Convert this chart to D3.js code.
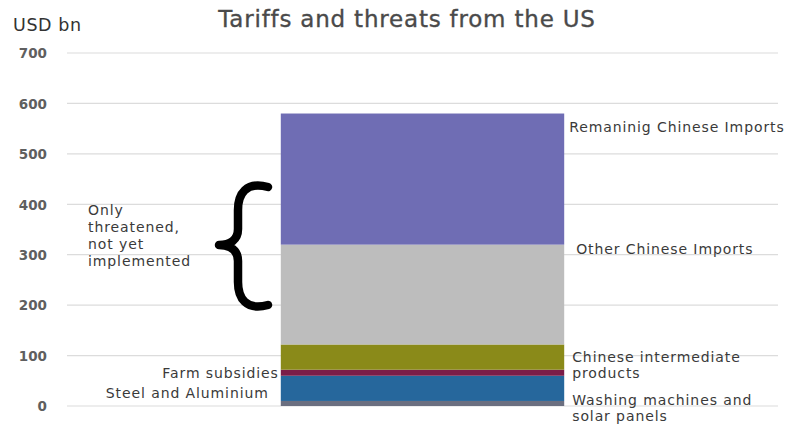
<!DOCTYPE html>
<html>
<head>
<meta charset="utf-8">
<script src="https://cdn.jsdelivr.net/npm/d3@7/dist/d3.min.js"></script>
<style>
  html, body { margin: 0; padding: 0; background: #fff; }
  svg { display: block; }
  text { font-family: "DejaVu Sans", "Noto Sans", sans-serif; }
</style>
</head>
<body>
<svg id="chart" width="791" height="424"></svg>
<script>
// US tariff measures on imports, stacked bottom to top (USD bn)
const segments = [
  "Washing machines and solar panels",
  "Steel and Aluminium",
  "Farm subsidies",
  "Chinese intermediate products",
  "Other Chinese Imports",
  "Remaninig Chinese Imports"
];
const values = [10, 50, 12, 50, 198, 260];
const colors = ["#6b6f80", "#26679c", "#7b1d48", "#8a8a19", "#bdbdbd", "#6f6db4"];
const yTicks = [0, 100, 200, 300, 400, 500, 600, 700];
const barName = ["US"];
const title = "Tariffs and threats from the US";
const unitLabel = "USD bn";
const braceNote = ["Only", "threatened,", "not yet", "implemented"];

const svg = d3.select("#chart");
const plot = { left: 67, right: 778, top: 53, bottom: 406 };

const y = d3.scaleLinear().domain([0, 700]).range([plot.bottom, plot.top]);
const x = d3.scaleBand().domain(barName).range([plot.left, plot.right]).padding(0.43);

// gridlines
svg.append("g")
  .selectAll("line")
  .data(yTicks)
  .join("line")
  .attr("x1", plot.left).attr("x2", plot.right)
  .attr("y1", d => y(d)).attr("y2", d => y(d))
  .attr("stroke", "#dcdcdc").attr("stroke-width", 1.2);

// y axis labels
const yAxis = d3.axisLeft(y).tickValues(yTicks).tickSize(0).tickPadding(0);
const gy = svg.append("g").attr("transform", "translate(47,0)").call(yAxis);
gy.select(".domain").remove();
gy.selectAll("text")
  .attr("fill", "#5f5f5f")
  .attr("font-size", 13.5)
  .attr("font-weight", "bold")
  .attr("dy", "0.35em");

// stacked bar
const row = { key: barName[0] };
segments.forEach((s, i) => row[s] = values[i]);
const stacked = d3.stack().keys(segments)([row]);

svg.append("g")
  .selectAll("rect")
  .data(stacked)
  .join("rect")
  .attr("x", x(barName[0]))
  .attr("width", x.bandwidth())
  .attr("y", d => y(d[0][1]))
  .attr("height", d => y(d[0][0]) - y(d[0][1]))
  .attr("fill", (d, i) => colors[i]);

// title and unit
svg.append("text")
  .attr("x", 407).attr("y", 27)
  .attr("text-anchor", "middle")
  .attr("font-family", "'Open Sans', sans-serif")
  .attr("font-size", 23)
  .attr("letter-spacing", 0.8)
  .attr("stroke", "#4a4a4a")
  .attr("stroke-width", 0.35)
  .attr("fill", "#4a4a4a")
  .text(title);

svg.append("text")
  .attr("x", 13).attr("y", 31)
  .attr("font-family", "'Open Sans', sans-serif")
  .attr("font-size", 17.5)
  .attr("letter-spacing", 0.6)
  .attr("fill", "#333")
  .text(unitLabel);

// segment labels
const labelStyle = sel => sel
  .attr("font-size", 14)
  .attr("letter-spacing", 0.9)
  .attr("fill", "#3a3a3a")
  .attr("dy", "0.35em");
const right = x(barName[0]) + x.bandwidth();
const left = x(barName[0]);
const segLabels = [
  { lines: ["Remaninig Chinese Imports"], side: "r", dx: 5, v: 553 },
  { lines: ["Other Chinese Imports"], side: "r", dx: 12, v: 311 },
  { lines: ["Chinese intermediate", "products"], side: "r", dx: 8, v: 97 },
  { lines: ["Washing machines and", "solar panels"], side: "r", dx: 8, v: 12 },
  { lines: ["Farm subsidies"], side: "l", dx: -2, v: 65 },
  { lines: ["Steel and Aluminium"], side: "l", dx: -12, v: 26 }
];
segLabels.forEach(L => {
  L.lines.forEach((t, j) => {
    svg.append("text")
      .attr("x", (L.side === "r" ? right : left) + L.dx)
      .attr("y", y(L.v) + j * 16.5)
      .attr("text-anchor", L.side === "r" ? "start" : "end")
      .call(labelStyle)
      .text(t);
  });
});

// curly brace marking the threatened (not yet implemented) tariffs
const yt = 186, yb = 306, ym = 245;
const bx = 238, tipX = 219, endX = 268;
const bracePath = `M${endX},${yt + 1} C${bx + 8},${yt - 5} ${bx},${yt + 8} ${bx},${yt + 24}
  L${bx},${ym - 16} C${bx},${ym - 5} ${bx - 8},${ym} ${tipX},${ym}
  C${bx - 8},${ym} ${bx},${ym + 5} ${bx},${ym + 16}
  L${bx},${yb - 24} C${bx},${yb - 8} ${bx + 8},${yb + 5} ${endX},${yb - 1}`;
svg.append("path")
  .attr("d", bracePath)
  .attr("fill", "none")
  .attr("stroke", "#000")
  .attr("stroke-width", 8.5)
  .attr("stroke-linecap", "round")
  .attr("stroke-linejoin", "round");

svg.append("g")
  .selectAll("text")
  .data(braceNote)
  .join("text")
  .attr("x", 88)
  .attr("y", (d, i) => 210 + i * 17)
  .call(labelStyle)
  .text(d => d);
</script>
</body>
</html>
